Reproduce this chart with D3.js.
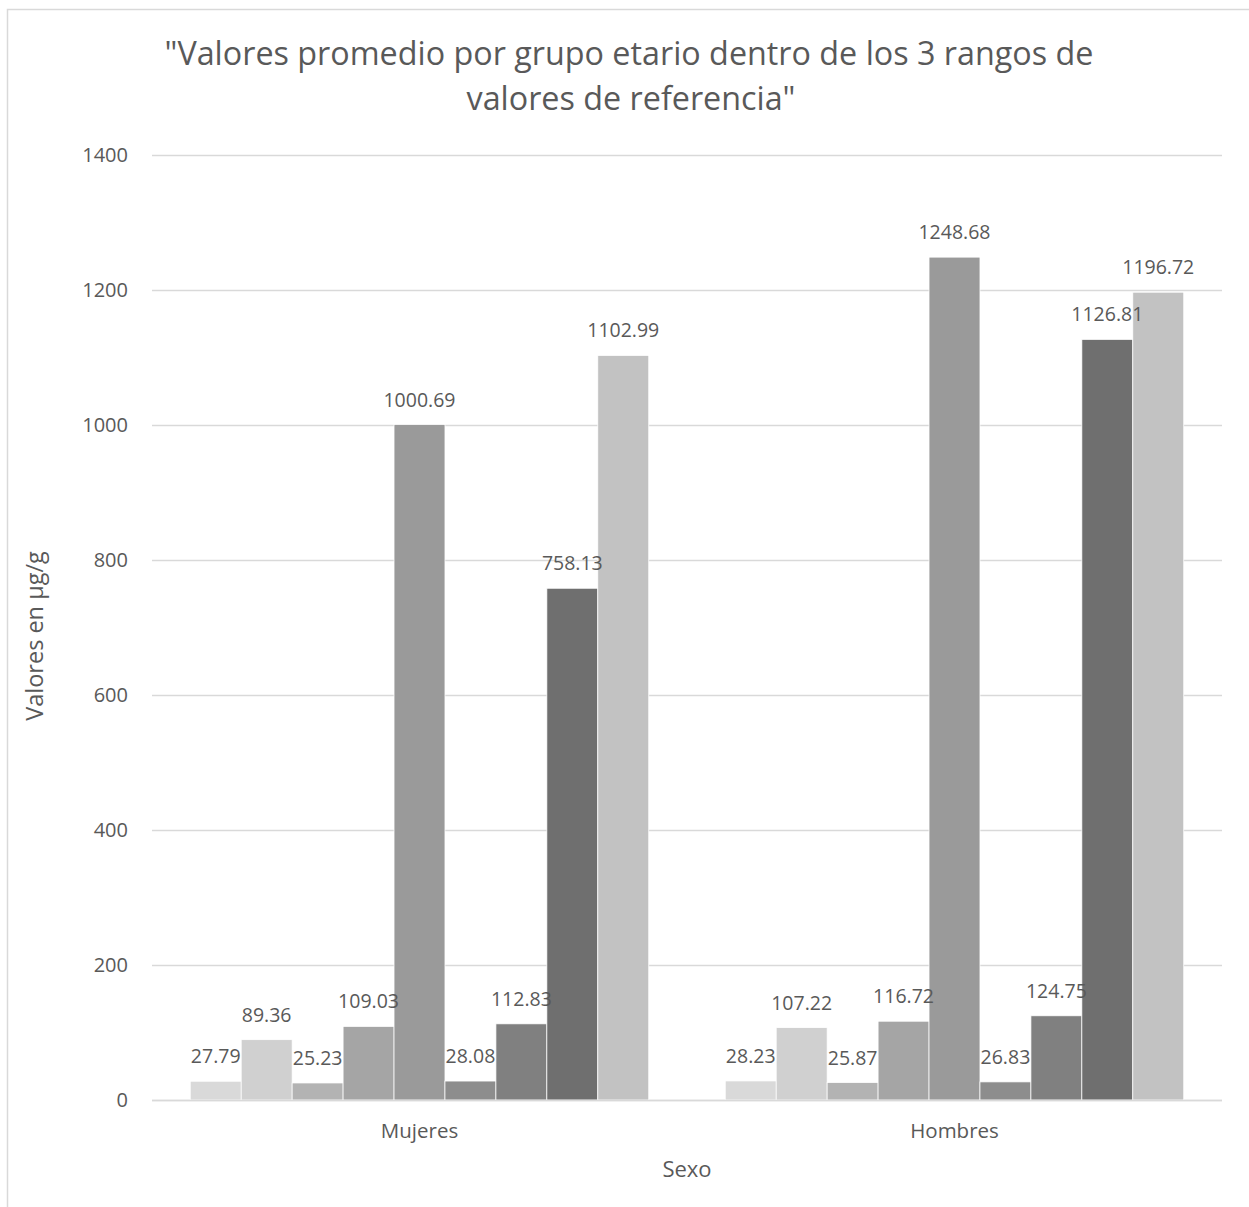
<!DOCTYPE html>
<html>
<head>
<meta charset="utf-8">
<script src="https://cdn.jsdelivr.net/npm/d3@7"></script>
<style>
  html, body { margin: 0; padding: 0; background: #fff; }
  svg { display: block; }
  text { font-family: "Open Sans", "Noto Sans", sans-serif; fill: #595959; }
</style>
</head>
<body>
<div id="chart"></div>
<script>
// Grouped bar chart: mean values by age group across the three reference ranges
const categories = ["Mujeres", "Hombres"];
const seriesNames = ["s1", "s2", "s3", "s4", "s5", "s6", "s7", "s8", "s9"];
const mujeres = [27.79, 89.36, 25.23, 109.03, 1000.69, 28.08, 112.83, 758.13, 1102.99];
const hombres = [28.23, 107.22, 25.87, 116.72, 1248.68, 26.83, 124.75, 1126.81, 1196.72];
const seriesColors = ["#d9d9d9", "#d0d0d0", "#b3b3b3", "#a5a5a5", "#9a9a9a", "#8d8d8d", "#808080", "#6f6f6f", "#c2c2c2"];
const yTicks = [0, 200, 400, 600, 800, 1000, 1200, 1400];

const values = { Mujeres: mujeres, Hombres: hombres };

const W = 1249, H = 1207;
const plot = { left: 152, right: 1222, top: 155, bottom: 1100 };
const FONT = '"Open Sans", "Noto Sans", sans-serif';

const svg = d3.select("#chart").append("svg").attr("width", W).attr("height", H);

// chart frame
svg.append("rect")
  .attr("x", 7.5).attr("y", 9.5)
  .attr("width", W + 10).attr("height", H + 10)
  .attr("fill", "#fff").attr("stroke", "#d9d9d9").attr("stroke-width", 1.5);

const x0 = d3.scaleBand().domain(categories).range([plot.left, plot.right]).paddingInner(0.143).paddingOuter(0.0715);
const x1 = d3.scaleBand().domain(seriesNames).range([0, x0.bandwidth()]);
const y = d3.scaleLinear().domain([0, 1400]).range([plot.bottom, plot.top]);

// horizontal gridlines
svg.append("g").selectAll("line").data(yTicks).join("line")
  .attr("x1", plot.left).attr("x2", plot.right)
  .attr("y1", d => Math.round(y(d)) + 0.5).attr("y2", d => Math.round(y(d)) + 0.5)
  .attr("stroke", "#d9d9d9").attr("stroke-width", 1.5);

// y axis labels
const yAxis = d3.axisLeft(y).tickValues(yTicks).tickFormat(d3.format("d")).tickSize(0).tickPadding(0);
const gy = svg.append("g").attr("transform", `translate(${plot.left - 24},0)`).call(yAxis);
gy.select(".domain").remove();
gy.selectAll("text").style("font-size", "20px").attr("fill", "#595959").style("font-family", FONT);

// bars
const groups = svg.append("g").selectAll("g").data(categories).join("g")
  .attr("transform", d => `translate(${x0(d)},0)`);

groups.selectAll("rect")
  .data(c => values[c].map((v, i) => ({ key: seriesNames[i], v, i })))
  .join("rect")
  .attr("x", d => x1(d.key))
  .attr("y", d => y(d.v))
  .attr("width", x1.bandwidth())
  .attr("height", d => y(0) - y(d.v))
  .attr("fill", d => seriesColors[d.i])
  .attr("stroke", "#ffffff").attr("stroke-width", 0.75);

// value labels
groups.selectAll("text.val")
  .data(c => values[c].map((v, i) => ({ key: seriesNames[i], v, i })))
  .join("text").attr("class", "val")
  .attr("x", d => x1(d.key) + x1.bandwidth() / 2)
  .attr("y", d => y(d.v) - 18)
  .attr("text-anchor", "middle")
  .style("font-size", "19.5px")
  .text(d => d.v.toFixed(2));

// x axis baseline
svg.append("line")
  .attr("x1", plot.left).attr("x2", plot.right)
  .attr("y1", y(0) + 0.5).attr("y2", y(0) + 0.5)
  .attr("stroke", "#d9d9d9").attr("stroke-width", 1.5);

// category labels
const xAxis = d3.axisBottom(x0).tickSize(0).tickPadding(0);
const gx = svg.append("g").attr("transform", `translate(0,${plot.bottom + 38})`).call(xAxis);
gx.select(".domain").remove();
gx.selectAll("text").attr("dy", 0).style("font-size", "20.5px").attr("fill", "#595959").style("font-family", FONT);

// axis titles
svg.append("text").attr("x", 687).attr("y", 1177).attr("text-anchor", "middle")
  .style("font-size", "22px").text("Sexo");
svg.append("text")
  .attr("transform", "translate(43,636) rotate(-90)")
  .attr("text-anchor", "middle").style("font-size", "23.5px").text("Valores en µg/g");

// title
const title = svg.append("text").attr("text-anchor", "middle").style("font-size", "32.3px");
title.append("tspan").attr("x", 629).attr("y", 65)
  .text("\"Valores promedio por grupo etario dentro de los 3 rangos de");
title.append("tspan").attr("x", 631).attr("y", 110)
  .text("valores de referencia\"");
</script>
</body>
</html>
